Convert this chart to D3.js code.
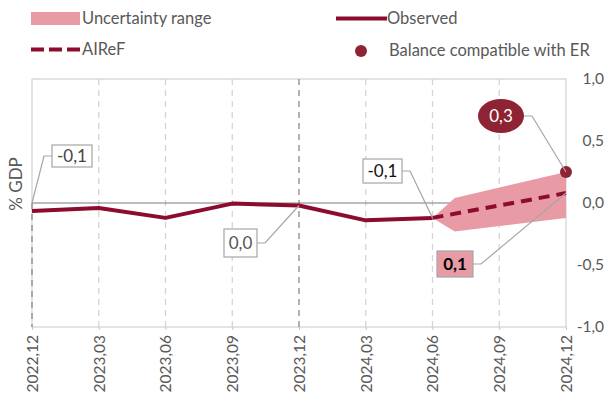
<!DOCTYPE html>
<html>
<head>
<meta charset="utf-8">
<script src="https://cdn.jsdelivr.net/npm/d3@7"></script>
<style>
  body { margin: 0; background: #fff; }
  svg text { font-family: Lato, "Open Sans", sans-serif; }
</style>
</head>
<body>
<svg id="canvas" width="610" height="401"></svg>
<script>
// Quarter labels (one every 3 months, counted from 2022,12)
var periods = ['2022,12', '2023,03', '2023,06', '2023,09', '2023,12', '2024,03', '2024,06', '2024,09', '2024,12'];
var observedMonths = [0, 3, 6, 9, 12, 15, 18];
var observedValues = [-0.065, -0.04, -0.12, -0.005, -0.02, -0.14, -0.12];
var airefMonths = [18, 21, 24];
var airefValues = [-0.12, -0.02, 0.08];
var bandMonths = [18, 19, 24];
var bandLower = [-0.12, -0.23, -0.12];
var bandUpper = [-0.12, 0.04, 0.25];
var erMonth = 24;
var erValue = 0.25;
var yTicks = [1, 0.5, 0, -0.5, -1];

var red = '#8c0b2f';
var dotRed = '#8e2433';
var pink = '#e89ba5';
var grey = '#595959';

var svg = d3.select('#canvas');
var margin = { top: 79, left: 32, right: 566, bottom: 327 };

var x = d3.scaleLinear().domain([0, 24]).range([margin.left, margin.right]);
var y = d3.scaleLinear().domain([-1, 1]).range([margin.bottom, margin.top]);
var fmt = function (v) { return d3.format('.1f')(v).replace('.', ',').replace('−', '-'); };

// plot frame
svg.append('rect')
  .attr('x', margin.left).attr('y', margin.top)
  .attr('width', margin.right - margin.left).attr('height', margin.bottom - margin.top)
  .attr('fill', 'none').attr('stroke', '#c8c8c8').attr('stroke-width', 1);

// vertical dashed grid
periods.forEach(function (p, i) {
  if (i == periods.length - 1) return;
  var yearEnd = p.slice(-2) == '12';
  svg.append('line')
    .attr('x1', x(i * 3)).attr('x2', x(i * 3))
    .attr('y1', i == 0 ? y(0) : margin.top).attr('y2', margin.bottom)
    .attr('stroke', yearEnd ? '#8a8a8a' : '#d4d4d4')
    .attr('stroke-width', 1.3)
    .attr('stroke-dasharray', '6,5');
});

// zero line
svg.append('line')
  .attr('x1', margin.left).attr('x2', margin.right)
  .attr('y1', y(0)).attr('y2', y(0))
  .attr('stroke', '#7a7a7a').attr('stroke-width', 1.2);

// uncertainty band
var band = bandMonths.map(function (m, i) { return [m, bandLower[i], bandUpper[i]]; });
svg.append('path')
  .datum(band)
  .attr('fill', pink)
  .attr('d', d3.area()
    .x(function (d) { return x(d[0]); })
    .y0(function (d) { return y(d[1]); })
    .y1(function (d) { return y(d[2]); }));

// observed
svg.append('path')
  .datum(observedMonths.map(function (m, i) { return [m, observedValues[i]]; }))
  .attr('fill', 'none').attr('stroke', red).attr('stroke-width', 4)
  .attr('stroke-linejoin', 'round')
  .attr('d', d3.line().x(function (d) { return x(d[0]); }).y(function (d) { return y(d[1]); }));

// AIReF
svg.append('path')
  .datum(airefMonths.map(function (m, i) { return [m, airefValues[i]]; }))
  .attr('fill', 'none').attr('stroke', red).attr('stroke-width', 4)
  .attr('stroke-dasharray', '11,7')
  .attr('d', d3.line().x(function (d) { return x(d[0]); }).y(function (d) { return y(d[1]); }));

// balance compatible with ER
svg.append('circle')
  .attr('cx', x(erMonth)).attr('cy', y(erValue)).attr('r', 6)
  .attr('fill', dotRed);

// right axis
svg.append('g')
  .attr('transform', 'translate(' + (margin.right + 38) + ',0)')
  .call(d3.axisLeft(y).tickValues(yTicks).tickSize(0).tickPadding(0).tickFormat(fmt))
  .call(function (g) { g.select('.domain').remove(); })
  .selectAll('text')
  .attr('font-size', 15.5).attr('fill', grey)
  .attr('font-family', 'Lato, sans-serif');

// bottom axis
var xAxis = svg.append('g')
  .attr('transform', 'translate(0,' + margin.bottom + ')')
  .call(d3.axisBottom(x).tickValues(d3.range(0, 25, 3)).tickSize(3)
    .tickFormat(function (d) { return periods[d / 3]; }));
xAxis.select('.domain').remove();
xAxis.selectAll('line').attr('stroke', '#c8c8c8');
xAxis.selectAll('text')
  .attr('font-size', 15.5).attr('fill', grey)
  .attr('font-family', 'Lato, sans-serif')
  .attr('text-anchor', 'end')
  .attr('transform', 'rotate(-90)')
  .attr('x', -8).attr('y', 0).attr('dy', '0.35em');

// y title
svg.append('text')
  .attr('transform', 'translate(22,184) rotate(-90)')
  .attr('text-anchor', 'middle')
  .attr('font-size', 17).attr('fill', grey)
  .text('% GDP');

// data labels
function callout(opt) {
  var px = x(opt.month), py = y(opt.value);
  var g = svg.append('g');
  var elbowX = opt.side == 'left' ? opt.bx - 8 : opt.bx + opt.bw + 8;
  var startX = opt.side == 'left' ? opt.bx : opt.bx + opt.bw;
  var midY = opt.by + opt.bh / 2;
  g.append('polyline')
    .attr('points', [[startX, midY], [elbowX, midY], [px, py]].join(' '))
    .attr('fill', 'none').attr('stroke', '#a6a6a6').attr('stroke-width', 1.2);
  if (opt.ellipse) {
    g.append('ellipse')
      .attr('cx', opt.bx + opt.bw / 2).attr('cy', midY)
      .attr('rx', opt.bw / 2).attr('ry', opt.bh / 2)
      .attr('fill', dotRed);
  } else {
    g.append('rect')
      .attr('x', opt.bx).attr('y', opt.by).attr('width', opt.bw).attr('height', opt.bh)
      .attr('fill', opt.fill || '#fff').attr('stroke', '#a6a6a6').attr('stroke-width', 1.2);
  }
  g.append('text')
    .attr('x', opt.bx + opt.bw / 2).attr('y', midY).attr('dy', '0.36em')
    .attr('text-anchor', 'middle')
    .attr('font-size', 17)
    .attr('font-weight', opt.bold ? 'bold' : 'normal')
    .attr('fill', opt.color)
    .text(opt.text);
}

callout({ month: observedMonths[0], value: 0, text: fmt(-0.1), bx: 52, by: 145, bw: 40, bh: 22, side: 'left', color: '#444' });
callout({ month: observedMonths[4], value: observedValues[4], text: fmt(0), bx: 224, by: 229, bw: 33, bh: 28, side: 'right', color: '#555' });
callout({ month: observedMonths[6], value: observedValues[6], text: fmt(-0.1), bx: 363, by: 159, bw: 39, bh: 24, side: 'right', color: '#111' });
callout({ month: airefMonths[2], value: airefValues[2], text: fmt(0.1), bx: 437, by: 251, bw: 36, bh: 26, side: 'right', color: '#000', fill: pink, bold: true });
callout({ month: erMonth, value: erValue, text: fmt(0.3), bx: 478, by: 99, bw: 46, bh: 34, side: 'right', color: '#fff', ellipse: true });

// legend
var legend = svg.append('g').attr('font-size', 16.5).attr('fill', grey);
legend.append('rect').attr('x', 31).attr('y', 12).attr('width', 49).attr('height', 13).attr('fill', pink);
legend.append('text').attr('x', 82).attr('y', 24).attr('fill', grey).text('Uncertainty range');
legend.append('line').attr('x1', 336).attr('x2', 387).attr('y1', 18.5).attr('y2', 18.5)
  .attr('stroke', red).attr('stroke-width', 4);
legend.append('text').attr('x', 387).attr('y', 24).attr('fill', grey).text('Observed');
legend.append('line').attr('x1', 31).attr('x2', 80).attr('y1', 49.5).attr('y2', 49.5)
  .attr('stroke', red).attr('stroke-width', 4).attr('stroke-dasharray', '13,5');
legend.append('text').attr('x', 82).attr('y', 55).attr('fill', grey).text('AIReF');
legend.append('circle').attr('cx', 361).attr('cy', 51).attr('r', 6).attr('fill', dotRed);
legend.append('text').attr('x', 389).attr('y', 56).attr('fill', grey).text('Balance compatible with ER');
</script>
</body>
</html>
